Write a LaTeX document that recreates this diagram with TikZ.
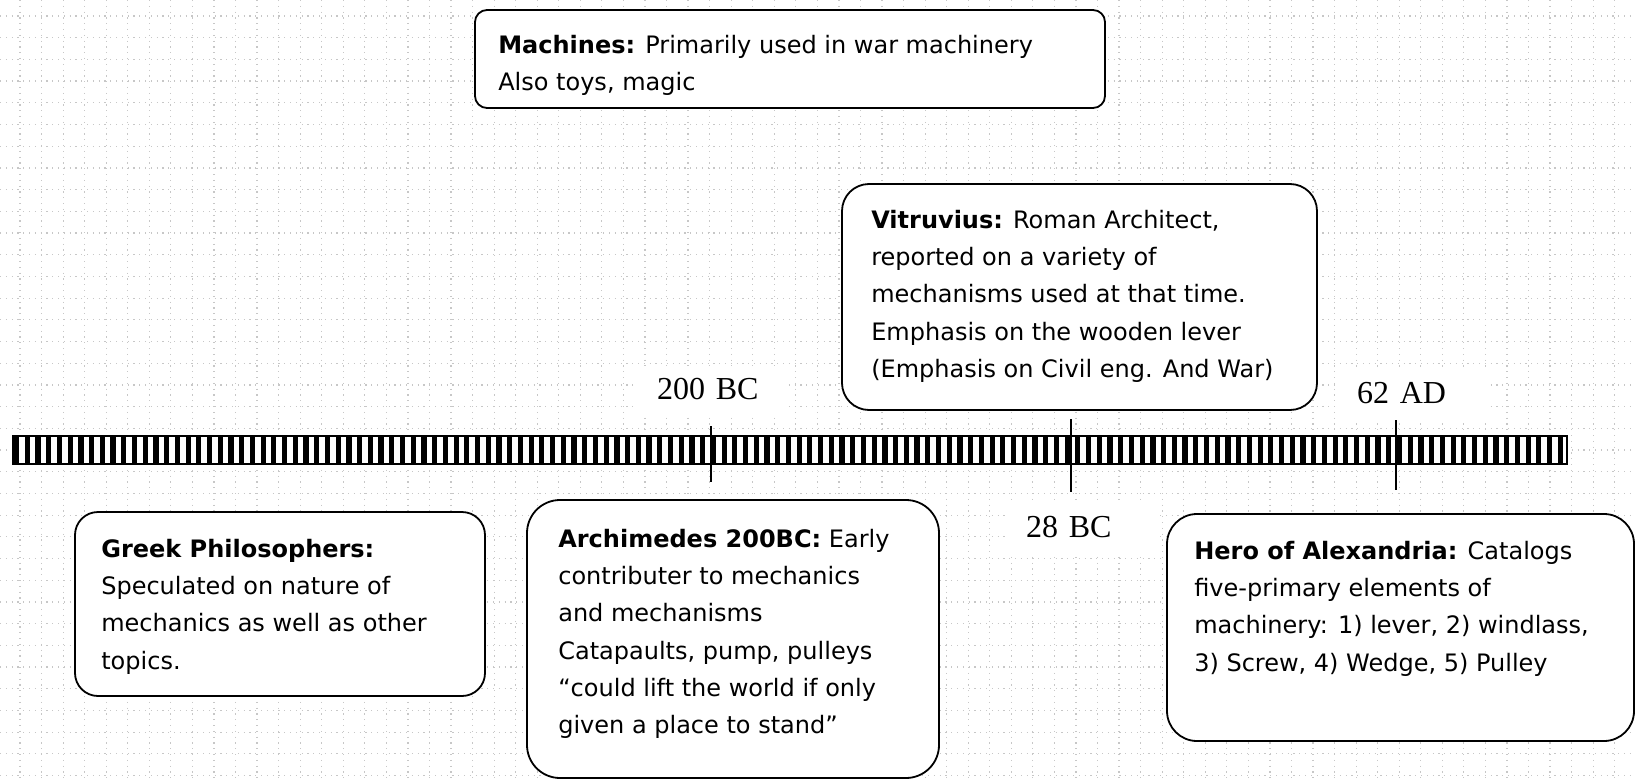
\documentclass[tikz,border=0pt]{standalone}
\usepackage{fontspec}
\setmainfont{DejaVu Sans}
\newfontfamily\datefont{Liberation Serif}
\usetikzlibrary{positioning}
\tikzset{
  gridline/.style={black!22, line width=1.2pt, dash pattern=on 1.2pt off 4.6pt},
  infobox/.style={draw=black, line width=1.8pt, fill=white, rounded corners=#1, inner sep=0pt},
  infotext/.style={anchor=north west, align=left, inner sep=0pt,
                   font=\fontsize{24}{37.3}\selectfont},
  datelabel/.style={fill=white, anchor=base west, text width=112pt, inner xsep=19pt,
                    inner ysep=11pt, text height=22pt, text depth=6pt,
                    font=\datefont\fontsize{32}{36}\selectfont},
  datetick/.style={line width=2pt}
}

\begin{document}
\begin{tikzpicture}[x=1pt,y=-1pt]
    \useasboundingbox (0,0) rectangle (1635,781);

      % Background grid paper.
      \foreach \gx in {-1,...,75}
        \draw[gridline] ({20+21.55*\gx},0) -- ({20+21.55*\gx},781);
      \foreach \gy in {-1,...,36}
        \draw[gridline] (0,{16+21.7*\gy}) -- (1635,{16+21.7*\gy});

      % Draw the striped time bar.
      \fill[white] (13,436) rectangle (1567,464);
      \foreach \i in {0,...,144}
        \fill[black] ({14+10.72*\i},436) rectangle ++(5.2,28);
      \draw[line width=2pt] (13,436) rectangle (1567,464);

      % Ticks for the dates.
      \draw[datetick] (710.5,426) -- (710.5,482);
      \draw[datetick] (1071,419) -- (1071,492);
      \draw[datetick] (1396,417) -- (1396,490);

      % Date labels.
      \node[datelabel] (bc200) at (638,399) {200 BC};
      \node[datelabel] (bc28) at (1007,537) {28 BC};
      \node[datelabel] (ad62) at (1338,403) {62 AD};

      % Boxes.
      \node[infobox=12pt, minimum width=630pt, minimum height=98pt] (machines) at (790,59) {};
      \node[infobox=27pt, minimum width=475pt, minimum height=226pt] (vitruvius) at (1079.5,297) {};
      \node[infobox=23pt, minimum width=410pt, minimum height=184pt] (greek) at (280,604) {};
      \node[infobox=33pt, minimum width=412pt, minimum height=278pt] (archimedes) at (733,639) {};
      \node[infobox=30pt, minimum width=467pt, minimum height=227pt] (hero) at (1400.5,627.5) {};

      % Texts in the boxes.
      \node[infotext] (machinestxt) at ([xshift=24pt,yshift=-25.8pt]machines.north west)
        {\textbf{Machines:} Primarily used in war machinery\\Also toys, magic};
      \node[infotext] (vitruviustxt) at ([xshift=30pt,yshift=-26.8pt]vitruvius.north west)
        {\textbf{Vitruvius:} Roman Architect,\\reported on a variety of\\mechanisms used at that time.\\Emphasis on the wooden lever\\(Emphasis on Civil eng. And War)};
      \node[infotext] (greektxt) at ([xshift=27pt,yshift=-27.8pt]greek.north west)
        {\textbf{Greek Philosophers:}\\Speculated on nature of\\mechanics as well as other\\topics.};
      \node[infotext] (archimedestxt) at ([xshift=32pt,yshift=-29.8pt]archimedes.north west)
        {\textbf{Archimedes 200BC:} Early\\contributer to mechanics\\and mechanisms\\Catapaults, pump, pulleys\\“could lift the world if only\\given a place to stand”};
      \node[infotext] (herotxt) at ([xshift=28pt,yshift=-27.8pt]hero.north west)
        {\textbf{Hero of Alexandria:} Catalogs\\five-primary elements of\\machinery: 1) lever, 2) windlass,\\3) Screw, 4) Wedge, 5) Pulley};
\end{tikzpicture}
\end{document}
